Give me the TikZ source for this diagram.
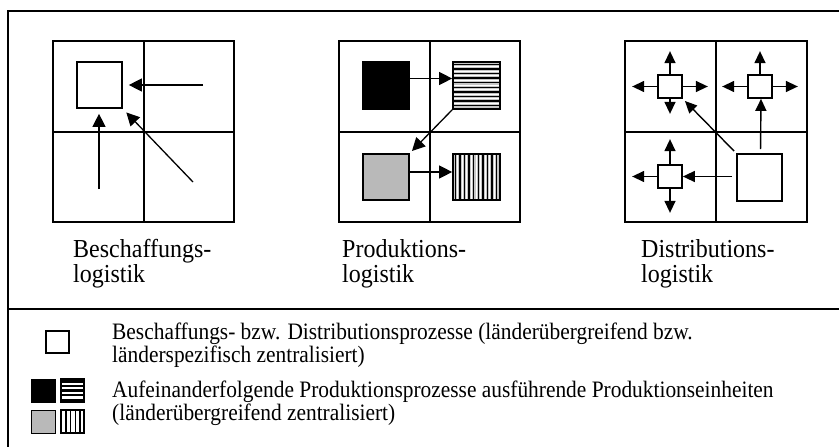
\documentclass[tikz,border=0pt]{standalone}
\usepackage{fontspec}
\setmainfont{Liberation Serif}
\usetikzlibrary{arrows.meta}
\tikzset{
  frame/.style={line width=2.6pt},
  divline/.style={line width=2pt},
  gridline/.style={line width=1.8pt},
  sq/.style={draw, line width=1.7pt, inner sep=0pt, fill=white},
  arr/.style={line width=1.3pt, -{Triangle[length=13pt,width=13pt]}},
  sarr/.style={line width=1.4pt, -{Triangle[length=12pt,width=11pt]}},
  lbl/.style={anchor=base west, inner sep=0pt, yscale=1.08, font=\fontsize{24}{26}\selectfont},
  leg/.style={anchor=base west, inner sep=0pt, yscale=1.1, font=\fontsize{21.4}{22}\selectfont},
  hstripes/.style={fill=gray!45, path picture={
    \foreach \k in {0,...,9} {
      \draw[line width=1.5pt,black] ([yshift=-2.3pt-\k*4.6pt]path picture bounding box.north west) -- ([yshift=-2.3pt-\k*4.6pt]path picture bounding box.north east);
      \draw[line width=1pt,white] ([yshift=-4.6pt-\k*4.6pt]path picture bounding box.north west) -- ([yshift=-4.6pt-\k*4.6pt]path picture bounding box.north east);
    }}},
  vstripes/.style={fill=gray!45, path picture={
    \foreach \k in {0,...,9} {
      \draw[line width=1.5pt,black] ([xshift=2.3pt+\k*4.6pt]path picture bounding box.north west) -- ([xshift=2.3pt+\k*4.6pt]path picture bounding box.south west);
      \draw[line width=1pt,white] ([xshift=4.6pt+\k*4.6pt]path picture bounding box.north west) -- ([xshift=4.6pt+\k*4.6pt]path picture bounding box.south west);
    }}},
  lhstripes/.style={fill=black, path picture={
    \foreach \k in {1,...,4} {
      \draw[line width=2.2pt,white] ([yshift=-\k*4.6pt]path picture bounding box.north west) -- ([yshift=-\k*4.6pt]path picture bounding box.north east);
    }}},
  lvstripes/.style={fill=white, path picture={
    \foreach \k in {1,...,4} {
      \draw[line width=1.6pt,black] ([xshift=\k*4.8pt]path picture bounding box.north west) -- ([xshift=\k*4.8pt]path picture bounding box.south west);
    }}},
}
\begin{document}
\begin{tikzpicture}[x=1pt,y=-1pt]
\useasboundingbox (0,0) rectangle (839,447);
% outer frame
\draw[frame] (839,11) -- (8,11) -- (8,447);
\draw[divline] (8,309) -- (839,309);

% ---------- Panel 1: Beschaffungslogistik
\draw[gridline] (53,41) rectangle (234,222);
\draw[gridline] (144,41) -- (144,222);
\draw[gridline] (53,132) -- (234,132);
\node[sq, minimum width=45pt, minimum height=46pt] (b1) at (99.5,85) {};
\coordinate (b1r) at (203,85);
\coordinate (b1d) at (99,189);
\coordinate (b1q) at (193,182);
\draw[arr, shorten >=6pt] (b1r) -- (b1r -| b1.east);
\draw[arr, shorten >=5pt] (b1d) -- (b1d |- b1.south);
\draw[arr, shorten >=5pt] (b1q) -- (b1.south east);
\node[lbl] (l1a) at (73,257) {Beschaffungs-};
\node[lbl] (l1b) at (73,282) {logistik};

% ---------- Panel 2: Produktionslogistik
\draw[gridline] (339,41) rectangle (520,222);
\draw[gridline] (430,41) -- (430,222);
\draw[gridline] (339,132) -- (520,132);
\node[sq, fill=black, minimum width=46pt, minimum height=47pt] (pblk) at (386,85.5) {};
\node[sq, hstripes, minimum width=47pt, minimum height=47pt] (phs) at (476.5,85.5) {};
\node[sq, fill=gray!55, minimum width=46pt, minimum height=46pt] (pgr) at (386,177) {};
\node[sq, vstripes, minimum width=47pt, minimum height=46pt] (pvs) at (476.5,177) {};
\draw[arr] ([yshift=7pt]pblk.east) -- ([yshift=7pt]phs.west);
\draw[arr, shorten >=3pt] (phs.south west) -- (pgr.north east);
\draw[arr] ([yshift=5pt]pgr.east) -- ([yshift=5pt]pvs.west);
\node[lbl] (l2a) at (342,257) {Produktions-};
\node[lbl] (l2b) at (342,282) {logistik};

% ---------- Panel 3: Distributionslogistik
\draw[gridline] (625,41) rectangle (807,222);
\draw[gridline] (716,41) -- (716,222);
\draw[gridline] (625,132) -- (807,132);
\node[sq, minimum width=24pt, minimum height=23pt] (s1) at (670,86.5) {};
\node[sq, minimum width=24pt, minimum height=23pt] (s2) at (760,86.5) {};
\node[sq, minimum width=24pt, minimum height=23pt] (s3) at (670,176.5) {};
\node[sq, minimum width=45pt, minimum height=47pt] (big) at (759.5,177.5) {};
% arrows out of small squares
\draw[sarr] (s1.north) -- ++(0,-23);
\draw[sarr] (s1.south) -- ++(0,15);
\draw[sarr] (s1.west) -- ++(-25,0);
\draw[sarr] (s1.east) -- ++(25,0);
\draw[sarr] (s2.north) -- ++(0,-23);
\draw[sarr] (s2.west) -- ++(-25,0);
\draw[sarr] (s2.east) -- ++(25,0);
\draw[sarr] (s3.north) -- ++(0,-25);
\draw[sarr] (s3.south) -- ++(0,24);
\draw[sarr] (s3.west) -- ++(-25,0);
% arrows from big square
\draw[sarr, shorten <=3pt, shorten >=3pt] (big.north west) -- (s1.south east);
\draw[sarr, shorten <=4pt] ([xshift=1pt]big.north) -- ([xshift=1pt]s2.south);
\draw[sarr, shorten <=4pt] (big.west |- s3.east) -- (s3.east);
\node[lbl] (l3a) at (641,257) {Distributions-};
\node[lbl] (l3b) at (641,282) {logistik};

% ---------- Legend
\node[sq, line width=1.3pt, minimum width=23pt, minimum height=22pt] (lsq) at (57.5,342) {};
\node[sq, line width=1pt, fill=black, minimum width=24pt, minimum height=23pt] (lblk) at (43,390.5) {};
\node[sq, line width=1.2pt, lhstripes, minimum width=23pt, minimum height=23pt] (lhs) at (72.5,390.5) {};
\node[sq, line width=1pt, fill=gray!55, minimum width=24pt, minimum height=23pt] (lgr) at (43,421.5) {};
\node[sq, line width=1.2pt, lvstripes, minimum width=23pt, minimum height=23pt] (lvs) at (72.5,421.5) {};
\node[leg] (t1) at (112,339) {Beschaffungs- bzw. Distributionsprozesse (länderübergreifend bzw.};
\node[leg] (t2) at (112,362) {länderspezifisch zentralisiert)};
\node[leg] (t3) at (112,397) {Aufeinanderfolgende Produktionsprozesse ausführende Produktionseinheiten};
\node[leg] (t4) at (112,420) {(länderübergreifend zentralisiert)};
\end{tikzpicture}
\end{document}
